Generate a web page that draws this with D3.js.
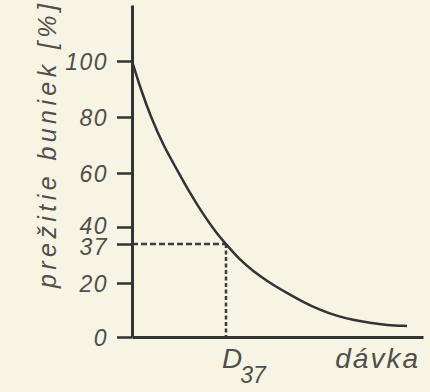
<!DOCTYPE html>
<html>
<head>
<meta charset="utf-8">
<script src="https://cdn.jsdelivr.net/npm/d3@7"></script>
<style>
  body { margin: 0; background: #f7f4e3; }
  svg text { font-family: "Liberation Sans", Arial, sans-serif; font-style: italic; fill: #4f4f4c; }
</style>
</head>
<body>
<div id="chart"></div>
<script>
// survival curve (dose in arbitrary units, survival in %)
const dose     = [0, 0.31, 0.65, 1.07, 1.55, 1.99, 2.44, 2.92, 3.23, 3.71, 4.16, 4.74, 5.33, 5.88, 6.46, 7.04, 7.59, 8.18, 8.76, 9.45];
const survival = [100, 89.6, 80, 70, 61.1, 52.6, 44.8, 38.8, 37, 30, 25.2, 20, 16.3, 13, 10, 7.8, 6.3, 5.2, 4.4, 4.1];

const yTicks = [0, 20, 37, 40, 60, 80, 100];
const d37 = {dose: 3.23, level: 37};
const yTitle = "prežitie buniek [%]";
const xTitle = "dávka";

const width = 430, height = 392;

const svg = d3.select("#chart")
  .append("svg")
    .attr("width", width)
    .attr("height", height);

// the drawn axis is schematic: 37 sits a bit lower than a linear scale would put it
let x = d3.scaleLinear()
  .domain([0, 10])
  .range([132, 423]);
let y = d3.scaleLinear()
  .domain([0, 20, 37, 40, 60, 80, 100, 120])
  .range([337, 283, 244, 227, 173, 117, 61, 5]);

// dashed helper lines for D37
svg.append("line")
  .attr("x1", x(0)).attr("x2", x(d37.dose))
  .attr("y1", y(d37.level)).attr("y2", y(d37.level))
  .style("stroke", "#3c3c3a")
  .style("stroke-width", 2.5)
  .style("stroke-dasharray", "6,3");
svg.append("line")
  .attr("x1", x(d37.dose)).attr("x2", x(d37.dose))
  .attr("y1", y(d37.level)).attr("y2", y(0))
  .style("stroke", "#3c3c3a")
  .style("stroke-width", 2.5)
  .style("stroke-dasharray", "4,2.5");

// Y axis
let yAxis = svg.append("g")
  .attr("transform", "translate(" + x(0) + ",0)")
  .call(d3.axisLeft(y)
    .tickValues(yTicks)
    .tickSize(15)
    .tickSizeOuter(0)
    .tickPadding(9)
    .tickFormat(d3.format("d")));
yAxis.select(".domain").style("stroke", "#333").style("stroke-width", 3);
yAxis.selectAll(".tick line").style("stroke", "#333").style("stroke-width", 2.5);
yAxis.selectAll(".tick text")
  .style("font-size", "23px")
  .style("letter-spacing", "1.5px")
  .attr("dy", d => d === 40 ? "0.28em" : d === 37 ? "0.44em" : "0.36em");

// X axis (no ticks)
let xAxis = svg.append("g")
  .attr("transform", "translate(0," + y(0) + ")")
  .call(d3.axisBottom(x).tickValues([]).tickSizeOuter(0));
xAxis.select(".domain").style("stroke", "#333").style("stroke-width", 3);

// curve
svg.append("path")
  .datum(dose.map((d, i) => [d, survival[i]]))
  .attr("fill", "none")
  .attr("stroke", "#333")
  .attr("stroke-width", 2.5)
  .attr("d", d3.line()
    .x(d => x(d[0]))
    .y(d => y(d[1]))
    .curve(d3.curveBasis));

// Y title
svg.append("text")
  .attr("transform", "translate(56," + 146 + ") rotate(-90)")
  .attr("text-anchor", "middle")
  .attr("textLength", 284)
  .style("font-size", "25px")
  .text(yTitle);

// D37 label
let dLabel = svg.append("text")
  .attr("x", x(d37.dose) - 4)
  .attr("y", 368)
  .style("font-size", "28px");
dLabel.append("tspan").text("D");
dLabel.append("tspan")
  .attr("dy", 15)
  .attr("dx", -2)
  .style("font-size", "23px")
  .text("37");

// X title
svg.append("text")
  .attr("x", 420)
  .attr("y", 368)
  .attr("text-anchor", "end")
  .style("font-size", "28px")
  .style("letter-spacing", "2px")
  .text(xTitle);
</script>
</body>
</html>
